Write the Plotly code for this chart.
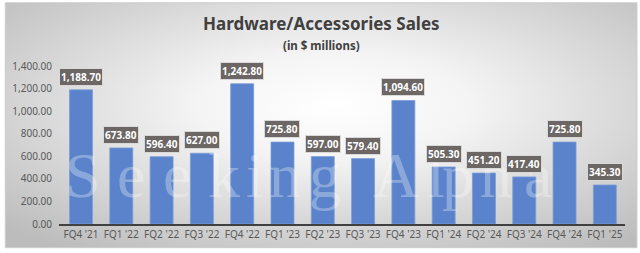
import base64
import plotly.graph_objects as go

categories = ["FQ4 '21", "FQ1 '22", "FQ2 '22", "FQ3 '22", "FQ4 '22", "FQ1 '23", "FQ2 '23",
              "FQ3 '23", "FQ4 '23", "FQ1 '24", "FQ2 '24", "FQ3 '24", "FQ4 '24", "FQ1 '25"]
sales = [1188.70, 673.80, 596.40, 627.00, 1242.80, 725.80, 597.00,
         579.40, 1094.60, 505.30, 451.20, 417.40, 725.80, 345.30]
y_ticks = [0, 200, 400, 600, 800, 1000, 1200, 1400]
watermark_letters = ["S", "e", "e", "k", "i", "n", "g", "A", "l", "p", "h", "a"]

W, H = 640, 253
L, R, T, B = 56, 15, 66, 27
pw, ph = W - L - R, H - T - B

svg = ("<svg xmlns='http://www.w3.org/2000/svg' width='635' height='248' viewBox='0 0 635 248' preserveAspectRatio='none'>"
       "<defs><radialGradient id='g' cx='0.52' cy='0.42' r='0.72'>"
       "<stop offset='0' stop-color='#ffffff'/><stop offset='0.3' stop-color='#f4f4f4'/>"
       "<stop offset='1' stop-color='#bcbcbc'/></radialGradient></defs>"
       "<rect width='635' height='248' fill='url(#g)'/></svg>")
src = "data:image/svg+xml;base64," + base64.b64encode(svg.encode()).decode()

def px(x):
    return (x - L) / pw

def py(y):
    return (H - B - y) / ph

fig = go.Figure()
fig.add_trace(go.Bar(
    x=categories, y=sales,
    marker=dict(color="#5a83cb", line=dict(color="#7a9dd8", width=0.8)),
    width=0.57, hoverinfo="skip",
))

annotations = []
# watermark (drawn first so labels sit on top)
wm_x = [80, 128, 175, 222, 253, 283, 323, 395, 435, 457, 495, 538]
for ch, cx in zip(watermark_letters, wm_x):
    annotations.append(dict(
        x=px(cx), y=py(177), xref="paper", yref="paper", text=ch, showarrow=False,
        font=dict(family="Liberation Serif, serif", size=64, color="rgba(255,255,255,0.3)"),
        xanchor="center", yanchor="middle"))

for c, v in zip(categories, sales):
    annotations.append(dict(
        x=c, y=v, xref="x", yref="y", text=f"<b>{v:,.2f}</b>", showarrow=False,
        yanchor="bottom", yshift=4,
        font=dict(family="Noto Sans, Open Sans, sans-serif", size=10, color="white"),
        bgcolor="#6c6664", bordercolor="#d9d9d9", borderwidth=1, borderpad=1,
    ))

# title and subtitle
annotations.append(dict(
    x=px(320), y=py(23), xref="paper", yref="paper", text="<b>Hardware/Accessories Sales</b>",
    showarrow=False, font=dict(family="Noto Sans, sans-serif", size=17, color="#404040"),
    xanchor="center", yanchor="middle"))
annotations.append(dict(
    x=px(320), y=py(45), xref="paper", yref="paper", text="<b>(in $ millions)</b>",
    showarrow=False, font=dict(family="Noto Sans, sans-serif", size=11.5, color="#404040"),
    xanchor="center", yanchor="middle"))

fig.update_layout(
    width=W, height=H,
    margin=dict(l=L, r=R, t=T, b=B, pad=0),
    paper_bgcolor="white", plot_bgcolor="rgba(0,0,0,0)",
    showlegend=False,
    annotations=annotations,
    images=[dict(source=src, xref="paper", yref="paper", x=px(2), y=py(2),
                 sizex=635 / pw, sizey=248 / ph, sizing="stretch", layer="below",
                 xanchor="left", yanchor="top")],
    shapes=[dict(type="rect", xref="paper", yref="paper", x0=px(2), x1=px(637),
                 y0=py(250), y1=py(2), line=dict(color="#c8c8c8", width=1), layer="above")],
    xaxis=dict(showgrid=False, showline=True, linecolor="#404040", linewidth=1.5,
               ticks="", tickfont=dict(family="Noto Sans, sans-serif", size=10, color="#595959"),
               fixedrange=True),
    yaxis=dict(range=[0, 1400], tickvals=y_ticks, tickformat=",.2f", showgrid=False,
               zeroline=False, showline=False, ticks="", ticklabelstandoff=6,
               tickfont=dict(family="Noto Sans, sans-serif", size=10, color="#595959"),
               fixedrange=True),
)

fig.write_html("out.html", config={"displayModeBar": False})
